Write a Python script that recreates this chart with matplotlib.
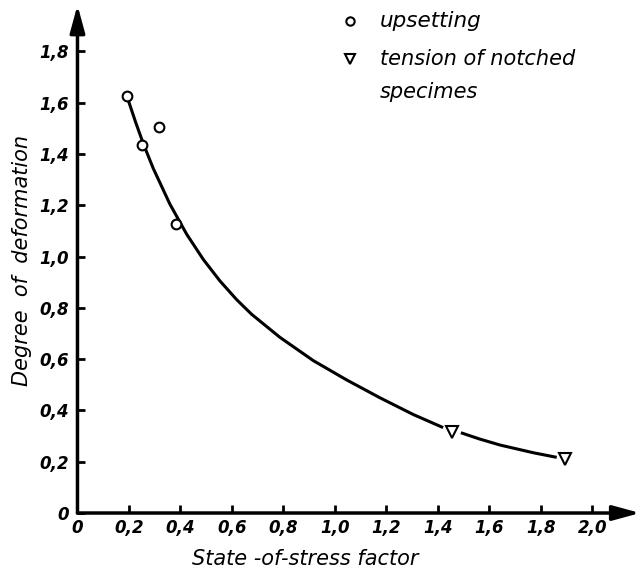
import matplotlib
matplotlib.use("Agg")
import matplotlib.pyplot as plt

# 数据
upset_x = [0.191, 0.318, 0.249, 0.383]
upset_y = [1.627, 1.506, 1.435, 1.127]

notch_x = [1.453, 1.893]
notch_y = [0.317, 0.209]

# 拟合曲线（中间在三角形处断开）
curve1_x = [0.197, 0.226, 0.256, 0.294, 0.359, 0.424, 0.489, 0.553, 0.618, 0.676,
            0.786, 0.916, 1.045, 1.175, 1.304, 1.420]
curve1_y = [1.610, 1.523, 1.439, 1.344, 1.204, 1.087, 0.988, 0.905, 0.832, 0.775,
            0.685, 0.594, 0.519, 0.449, 0.384, 0.333]
curve2_x = [1.489, 1.560, 1.641, 1.770, 1.861]
curve2_y = [0.313, 0.289, 0.265, 0.235, 0.217]

x_ticks = [0, 0.2, 0.4, 0.6, 0.8, 1.0, 1.2, 1.4, 1.6, 1.8, 2.0]
x_labels = ['0', '0,2', '0,4', '0,6', '0,8', '1,0', '1,2', '1,4', '1,6', '1,8', '2,0']
y_ticks = [0, 0.2, 0.4, 0.6, 0.8, 1.0, 1.2, 1.4, 1.6, 1.8]
y_labels = ['0', '0,2', '0,4', '0,6', '0,8', '1,0', '1,2', '1,4', '1,6', '1,8']

plt.rcParams['font.family'] = ['DejaVu Sans']
plt.rcParams['font.style'] = 'italic'

fig = plt.figure(figsize=(6.44, 5.75), dpi=100)
ax = fig.add_axes([0.1203, 0.1078, 0.8737, 0.8833])
ax.set_xlim(0, 2.185)
ax.set_ylim(0, 1.98)

for s in ax.spines.values():
    s.set_visible(False)

# 坐标轴箭头
arrow = dict(arrowstyle='-|>,head_length=1.1,head_width=0.3', lw=2.5,
             color='black', mutation_scale=15, shrinkA=0, shrinkB=0)
ax.annotate('', xy=(1, 0), xytext=(0, 0), xycoords='axes fraction',
            arrowprops=arrow, annotation_clip=False)
ax.annotate('', xy=(0, 1), xytext=(0, 0), xycoords='axes fraction',
            arrowprops=arrow, annotation_clip=False)

ax.plot(curve1_x, curve1_y, color='black', lw=2.2, solid_capstyle='butt',
        solid_joinstyle='round')
ax.plot(curve2_x, curve2_y, color='black', lw=2.2, solid_capstyle='butt',
        solid_joinstyle='round')
ax.plot(upset_x, upset_y, 'o', ms=7, mfc='white', mec='black', mew=1.5)
ax.plot(notch_x, notch_y, 'v', ms=8, mfc='white', mec='black', mew=1.5)

ax.set_xticks(x_ticks)
ax.set_xticklabels(x_labels)
ax.set_yticks(y_ticks)
ax.set_yticklabels(y_labels)
ax.tick_params(direction='in', length=6, width=2, labelsize=12)
ax.tick_params(axis='x', pad=4)
ax.tick_params(axis='y', pad=6)
for lab in ax.get_xticklabels() + ax.get_yticklabels():
    lab.set_fontweight('bold')
    lab.set_fontstyle('italic')

fig.text(305 / 644, 1 - 559 / 575, 'State -of-stress factor', ha='center', va='center',
         fontsize=15, style='italic')
fig.text(22 / 644, 1 - 260 / 575, 'Degree  of  deformation', ha='center', va='center',
         rotation=90, fontsize=15, style='italic')

# 图例
ax.plot([0.484], [0.969], 'o', ms=6, mfc='white', mec='black', mew=1.5,
        transform=ax.transAxes, clip_on=False)
ax.plot([0.484], [0.894], 'v', ms=7, mfc='white', mec='black', mew=1.5,
        transform=ax.transAxes, clip_on=False)
ax.text(0.537, 0.969, 'upsetting', transform=ax.transAxes, ha='left', va='center',
        fontsize=15.5, style='italic')
ax.text(0.537, 0.894, 'tension of notched', transform=ax.transAxes, ha='left',
        va='center', fontsize=15, style='italic')
ax.text(0.537, 0.828, 'specimes', transform=ax.transAxes, ha='left', va='center',
        fontsize=15, style='italic')

plt.savefig('out.png', dpi=100)
